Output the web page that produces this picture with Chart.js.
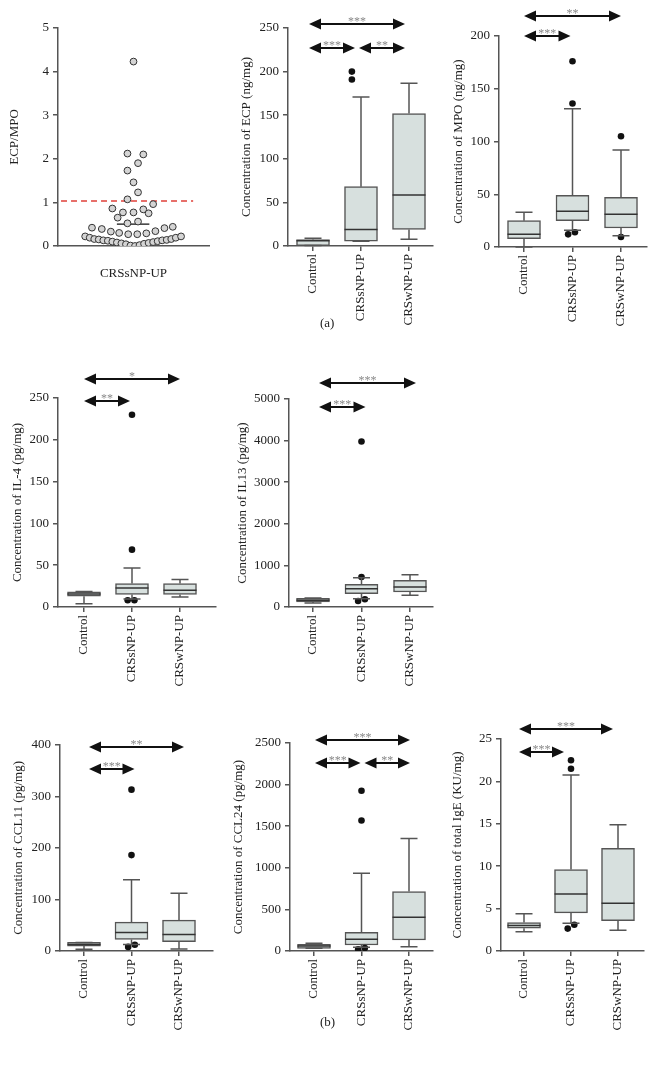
<!DOCTYPE html>
<html>
<head>
<meta charset="utf-8">
<script src="https://cdn.jsdelivr.net/npm/chart.js@4.4.0/dist/chart.umd.min.js"></script>
<style>
  body { margin: 0; background: #fff; }
  #page { position: relative; width: 655px; height: 1077px; overflow: hidden; }
  canvas { position: absolute; }
  .tag { position: absolute; font: 13px "Liberation Serif", "Times New Roman", serif; color: #222; }
</style>
</head>
<body>
<div id="page">
  <canvas id="ratio"></canvas>
  <canvas id="ecp"></canvas>
  <canvas id="mpo"></canvas>
  <canvas id="il4"></canvas>
  <canvas id="il13"></canvas>
  <canvas id="ccl11"></canvas>
  <canvas id="ccl24"></canvas>
  <canvas id="ige"></canvas>
  <div class="tag" style="left:320px;top:315px">(a)</div>
  <div class="tag" style="left:320px;top:1014px">(b)</div>
</div>
<script>
const groups = ["Control", "CRSsNP-UP", "CRSwNP-UP"];

// ECP/MPO ratio in CRSsNP-UP, x = position in the swarm, y = ratio
const ratioX = [0.00, -0.08, 0.13, 0.06, -0.08, 0.00, 0.06, -0.08, 0.26, -0.28, 0.13, -0.14, 0.00, 0.20, -0.21, -0.08, 0.06,
  -0.55, -0.42, -0.30, -0.19, -0.07, 0.05, 0.17, 0.29, 0.41, 0.52,
  -0.64, -0.58, -0.52, -0.46, -0.40, -0.34, -0.28, -0.22, -0.16, -0.10, -0.04, 0.02, 0.08, 0.14, 0.20, 0.26, 0.32, 0.38, 0.44, 0.50, 0.56, 0.63];
const ratioY = [4.23, 2.12, 2.10, 1.90, 1.73, 1.46, 1.23, 1.07, 0.96, 0.86, 0.84, 0.77, 0.77, 0.75, 0.65, 0.52, 0.56,
  0.42, 0.39, 0.33, 0.30, 0.27, 0.27, 0.29, 0.34, 0.41, 0.44,
  0.22, 0.19, 0.16, 0.15, 0.13, 0.12, 0.10, 0.08, 0.06, 0.04, 0.01, 0.00, 0.02, 0.05, 0.07, 0.09, 0.11, 0.13, 0.14, 0.16, 0.19, 0.22];
const ratioMedian = 0.5;
const ratioCutoff = 1.03;
const ratioTicks = [0, 1, 2, 3, 4, 5];

// box plots: [min, q1, median, q3, max] for each group
// outliers: [group, offset in the group, value]
const ecpBox = [[0.5, 0.5, 6, 7.5, 9], [5.4, 5.4, 19, 68, 171], [7.7, 19, 58.6, 152, 186.5]];
const ecpOut = [[1, -0.19, 200], [1, -0.19, 191]];
const ecpTicks = [0, 50, 100, 150, 200, 250];
const ecpStars = [[0, 2, "***", 0], [0, 1, "***", 1], [1, 2, "**", 1]];

const mpoBox = [[0, 8, 12, 25, 33], [15.8, 25, 34, 49, 131], [10.7, 18, 31, 47, 92]];
const mpoOut = [[1, 0, 176], [1, 0, 136], [1, -0.09, 12], [1, 0.05, 14], [2, 0, 105], [2, 0, 9.5]];
const mpoTicks = [0, 50, 100, 150, 200];
const mpoStars = [[0, 2, "**", 0], [0, 1, "***", 1]];

const il4Box = [[4, 13, 15.5, 18, 18.5], [9.6, 15, 22.7, 28, 46.6], [12, 15, 20, 28, 33]];
const il4Out = [[1, 0, 230], [1, 0, 68.6], [1, -0.09, 8], [1, 0.05, 8]];
const il4Ticks = [0, 50, 100, 150, 200, 250];
const il4Stars = [[0, 2, "*", 0], [0, 1, "**", 1]];

const il13Box = [[96, 120, 160, 210, 217], [200, 321, 441, 546, 706], [281, 361, 482, 642, 778]];
const il13Out = [[1, 0, 3980], [1, 0, 722], [1, -0.07, 144], [1, 0.07, 185]];
const il13Ticks = [0, 1000, 2000, 3000, 4000, 5000];
const il13Stars = [[0, 2, "***", 0], [0, 1, "***", 1]];

const ccl11Box = [[3.2, 9.6, 12.8, 16.7, 16.7], [12.8, 22.5, 36, 56, 138], [3.9, 18, 32, 60, 112]];
const ccl11Out = [[1, 0, 313], [1, 0, 186], [1, -0.07, 8], [1, 0.07, 12]];
const ccl11Ticks = [0, 100, 200, 300, 400];
const ccl11Stars = [[0, 2, "**", 0], [0, 1, "***", 1]];

const ccl24Box = [[32, 32, 60, 80, 92], [44, 72, 140, 225, 935], [52, 132, 405, 714, 1352]];
const ccl24Out = [[1, 0, 1926], [1, 0, 1569], [1, -0.07, 20], [1, 0.07, 36]];
const ccl24Ticks = [0, 500, 1000, 1500, 2000, 2500];
const ccl24Stars = [[0, 2, "***", 0], [0, 1, "***", 1], [1, 2, "**", 1]];

const igeBox = [[2.28, 2.68, 3.0, 3.35, 4.4], [3.27, 4.49, 6.73, 9.6, 20.75], [2.44, 3.58, 5.63, 12.1, 14.9]];
const igeOut = [[1, 0, 22.5], [1, 0, 21.5], [1, -0.07, 2.64], [1, 0.07, 3.1]];
const igeTicks = [0, 5, 10, 15, 20, 25];
const igeStars = [[0, 2, "***", 0], [0, 1, "***", 1]];

const FONT = "'Liberation Serif', 'Times New Roman', serif";
const AXIS = "#555";
const TEXT = "#222";
const BOX_FILL = "#d7e0de";

function place(canvas, left, top, w, h) {
  canvas.style.left = left + "px";
  canvas.style.top = top + "px";
  canvas.width = w;
  canvas.height = h;
}

function yScale(title, ticks, yw) {
  return {
    min: 0,
    max: ticks[ticks.length - 1],
    afterBuildTicks: (s) => { s.ticks = ticks.map(v => ({ value: v })); },
    afterFit: (s) => { s.width = yw; },
    grid: { drawOnChartArea: false, tickLength: 5, color: AXIS, lineWidth: 1.5 },
    border: { color: AXIS, width: 1.5 },
    ticks: { color: TEXT, font: { family: FONT, size: 13 }, padding: 4, callback: (v) => String(v) },
    title: { display: true, text: title, color: TEXT, font: { family: FONT, size: 13 }, padding: 0 }
  };
}

function arrow(ctx, x1, x2, y) {
  const hl = 12, hw = 5.5;
  ctx.strokeStyle = "#111";
  ctx.fillStyle = "#111";
  ctx.lineWidth = 2;
  ctx.beginPath();
  ctx.moveTo(x1 + hl - 1, y);
  ctx.lineTo(x2 - hl + 1, y);
  ctx.stroke();
  ctx.beginPath();
  ctx.moveTo(x1, y); ctx.lineTo(x1 + hl, y - hw); ctx.lineTo(x1 + hl, y + hw); ctx.closePath();
  ctx.fill();
  ctx.beginPath();
  ctx.moveTo(x2, y); ctx.lineTo(x2 - hl, y - hw); ctx.lineTo(x2 - hl, y + hw); ctx.closePath();
  ctx.fill();
}

function boxPanel(id, title, ticks, boxes, outliers, stars, lay) {
  const canvas = document.getElementById(id);
  const left = lay.titleX - 8;
  const top = Math.min(...lay.arrowY) - 14;
  const xh = 85, padRight = 10;
  place(canvas, left, top, lay.axisRight + padRight - left, lay.yZero + xh - top);
  const s = (lay.centers[2] - lay.centers[0]) / 2;
  const xmin = -(lay.centers[0] - lay.axisX) / s;
  const xmax = 2 + (lay.axisRight - lay.centers[2]) / s;

  const whiskers = {
    id: "whiskers",
    afterDatasetsDraw(chart) {
      const ctx = chart.ctx, x = chart.scales.x, y = chart.scales.y;
      const bars = chart.getDatasetMeta(1).data;
      ctx.save();
      ctx.lineWidth = 1.5;
      boxes.forEach((b, i) => {
        const cx = x.getPixelForValue(i);
        const half = bars[i].width / 2;
        const cap = 8.5;
        ctx.strokeStyle = AXIS;
        ctx.beginPath();
        ctx.moveTo(cx, y.getPixelForValue(b[3])); ctx.lineTo(cx, y.getPixelForValue(b[4]));
        ctx.moveTo(cx - cap, y.getPixelForValue(b[4])); ctx.lineTo(cx + cap, y.getPixelForValue(b[4]));
        ctx.moveTo(cx, y.getPixelForValue(b[1])); ctx.lineTo(cx, y.getPixelForValue(b[0]));
        ctx.moveTo(cx - cap, y.getPixelForValue(b[0])); ctx.lineTo(cx + cap, y.getPixelForValue(b[0]));
        ctx.stroke();
        ctx.strokeStyle = "#333";
        ctx.beginPath();
        ctx.moveTo(cx - half, y.getPixelForValue(b[2])); ctx.lineTo(cx + half, y.getPixelForValue(b[2]));
        ctx.stroke();
      });
      ctx.restore();
    },
    afterDraw(chart) {
      const ctx = chart.ctx, x = chart.scales.x;
      ctx.save();
      stars.forEach(([a, b, label, row]) => {
        const yy = lay.arrowY[row] - top;
        const x1 = x.getPixelForValue(a) + lay.shift + (a === 1 ? 2 : 0);
        const x2 = x.getPixelForValue(b) + lay.shift - (b === 1 ? 2 : 0);
        arrow(ctx, x1, x2, yy);
        ctx.fillStyle = "#888";
        ctx.font = "12px " + FONT;
        ctx.textAlign = "center";
        ctx.textBaseline = "alphabetic";
        ctx.fillText(label, (x1 + x2) / 2, yy + 1);
      });
      ctx.restore();
    }
  };

  new Chart(canvas, {
    type: "bar",
    data: {
      datasets: [
        {
          type: "scatter",
          data: outliers.map(o => ({ x: o[0] + o[1], y: o[2] })),
          pointRadius: 3.3,
          backgroundColor: "#111",
          borderWidth: 0
        },
        {
          type: "bar",
          data: boxes.map((b, i) => ({ x: i, y: [b[1], b[3]] })),
          backgroundColor: BOX_FILL,
          borderColor: AXIS,
          borderWidth: 1.5,
          borderSkipped: false,
          barThickness: 33
        }
      ]
    },
    options: {
      responsive: false,
      animation: false,
      layout: { padding: { top: lay.yTop - top, right: padRight, left: 0, bottom: 0 } },
      plugins: { legend: { display: false }, tooltip: { enabled: false } },
      scales: {
        x: {
          type: "linear",
          offset: false,
          min: xmin,
          max: xmax,
          afterBuildTicks: (sc) => { sc.ticks = [0, 1, 2].map(v => ({ value: v })); },
          afterFit: (sc) => { sc.height = xh; },
          grid: { drawOnChartArea: false, offset: false, tickLength: 5, color: AXIS, lineWidth: 1.5 },
          border: { color: AXIS, width: 1.5 },
          ticks: {
            autoSkip: false, minRotation: 90, maxRotation: 90, padding: 3,
            color: TEXT, font: { family: FONT, size: 13 },
            callback: (v) => groups[v]
          }
        },
        y: yScale(title, ticks, lay.axisX - left)
      }
    },
    plugins: [whiskers]
  });
}

// ECP/MPO swarm
(function () {
  const canvas = document.getElementById("ratio");
  const left = 7, top = 10;
  const axisX = 58, axisRight = 209, yTop = 28, yZero = 246, xh = 40, padRight = 10;
  place(canvas, left, top, axisRight + padRight - left, yZero + xh - top);
  new Chart(canvas, {
    type: "scatter",
    data: {
      datasets: [
        {
          data: ratioX.map((x, i) => ({ x: x, y: ratioY[i] })),
          pointRadius: 3.4,
          backgroundColor: "#d4d4d4",
          borderColor: "#333",
          borderWidth: 1
        },
        {
          type: "line",
          data: [{ x: -0.22, y: ratioMedian }, { x: 0.21, y: ratioMedian }],
          borderColor: "#111",
          borderWidth: 1.3,
          pointRadius: 0
        },
        {
          type: "line",
          data: [{ x: -0.96, y: ratioCutoff }, { x: 0.79, y: ratioCutoff }],
          borderColor: "#e0403a",
          borderWidth: 1.5,
          borderDash: [6, 4],
          pointRadius: 0
        }
      ]
    },
    options: {
      responsive: false,
      animation: false,
      layout: { padding: { top: yTop - top, right: padRight, left: 0, bottom: 0 } },
      plugins: { legend: { display: false }, tooltip: { enabled: false } },
      scales: {
        x: {
          type: "linear",
          min: -1,
          max: 1,
          afterBuildTicks: (sc) => { sc.ticks = [{ value: 0 }]; },
          afterFit: (sc) => { sc.height = xh; },
          grid: { display: false },
          border: { color: AXIS, width: 1.5 },
          ticks: {
            minRotation: 0, maxRotation: 0, padding: 12,
            color: TEXT, font: { family: FONT, size: 13 },
            callback: () => "CRSsNP-UP"
          }
        },
        y: yScale("ECP/MPO", ratioTicks, axisX - left)
      }
    }
  });
})();

boxPanel("ecp", "Concentration of ECP (ng/mg)", ecpTicks, ecpBox, ecpOut, ecpStars,
  { axisX: 288, axisRight: 433, yTop: 28, yZero: 246, centers: [313, 361, 409], titleX: 247, arrowY: [24, 48], shift: -4 });
boxPanel("mpo", "Concentration of MPO (ng/mg)", mpoTicks, mpoBox, mpoOut, mpoStars,
  { axisX: 499, axisRight: 647, yTop: 36, yZero: 247, centers: [524, 573, 621], titleX: 459, arrowY: [16, 36], shift: 0 });
boxPanel("il4", "Concentration of IL-4 (pg/mg)", il4Ticks, il4Box, il4Out, il4Stars,
  { axisX: 58, axisRight: 216, yTop: 398, yZero: 607, centers: [84, 133, 180], titleX: 18, arrowY: [379, 401], shift: 0 });
boxPanel("il13", "Concentration of IL13 (pg/mg)", il13Ticks, il13Box, il13Out, il13Stars,
  { axisX: 289, axisRight: 433, yTop: 399, yZero: 607, centers: [313, 362, 410], titleX: 243, arrowY: [383, 407], shift: 6 });
boxPanel("ccl11", "Concentration of CCL11 (pg/mg)", ccl11Ticks, ccl11Box, ccl11Out, ccl11Stars,
  { axisX: 60, axisRight: 213, yTop: 743, yZero: 951, centers: [84, 132, 179], titleX: 19, arrowY: [747, 769], shift: 5 });
boxPanel("ccl24", "Concentration of CCL24 (pg/mg)", ccl24Ticks, ccl24Box, ccl24Out, ccl24Stars,
  { axisX: 290, axisRight: 433, yTop: 743, yZero: 951, centers: [314, 361, 409], titleX: 239, arrowY: [740, 763], shift: 1 });
boxPanel("ige", "Concentration of total IgE (KU/mg)", igeTicks, igeBox, igeOut, igeStars,
  { axisX: 501, axisRight: 644, yTop: 739, yZero: 951, centers: [524, 571, 618], titleX: 458, arrowY: [729, 752], shift: -5 });
</script>
</body>
</html>
